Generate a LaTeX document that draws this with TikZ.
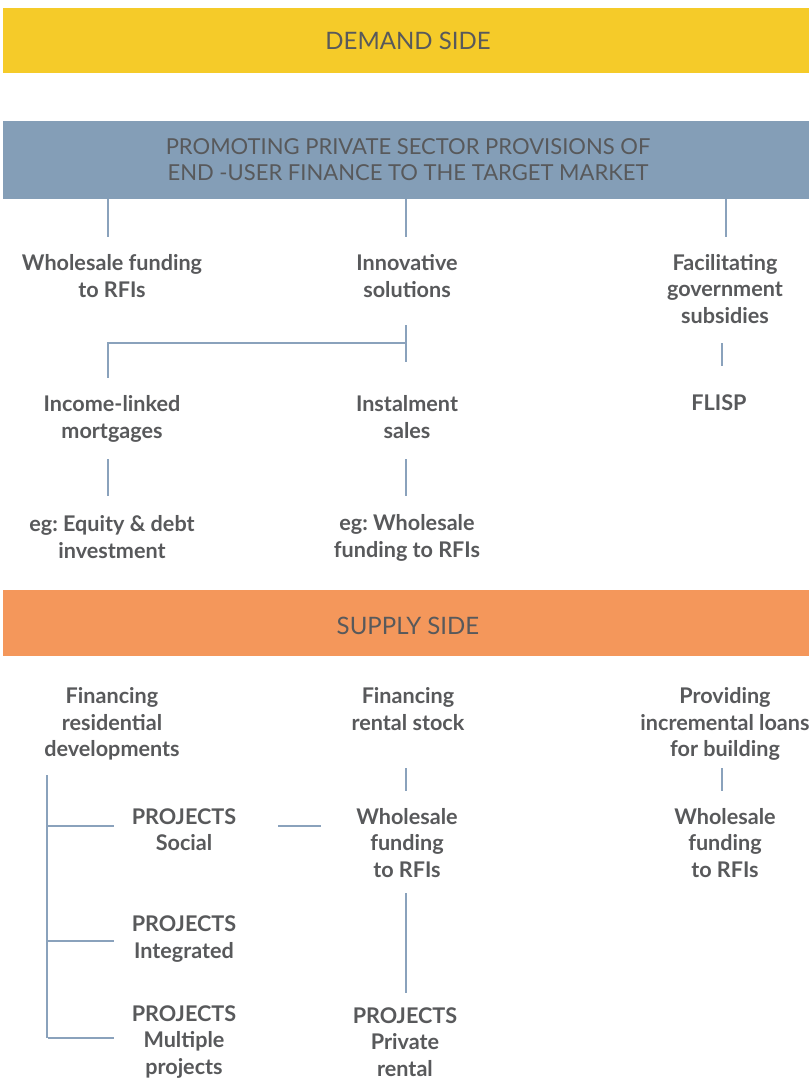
\documentclass[tikz,border=0pt]{standalone}
\usepackage{fontspec}
\setmainfont{Lato}
\frenchspacing
\definecolor{bandyellow}{HTML}{F5CB29}
\definecolor{bandblue}{HTML}{849EB7}
\definecolor{bandorange}{HTML}{F4975B}
\definecolor{txt}{HTML}{58595B}
\definecolor{conn}{HTML}{8AA2BC}
\begin{document}
\begin{tikzpicture}[x=1pt,y=-1pt,
  band/.style={draw=none,inner sep=0pt,minimum width=806pt,anchor=north west},
  headtxt/.style={text=txt,font=\fontsize{24}{26}\selectfont,align=center},
  promotxt/.style={text=txt,font=\fontsize{22}{26}\selectfont,align=center},
  lbl/.style={text=txt,font=\bfseries\fontsize{21.6}{26.3}\selectfont,align=center,inner sep=0pt},
  conline/.style={draw=conn,line width=2pt}]
\useasboundingbox (0,0) rectangle (809,1079);
\fill[white] (0,0) rectangle (809,1079);
% bands
\node[band,fill=bandyellow,minimum height=65pt] (demand) at (3,8) {};
\node[headtxt] (demandt) at (408,41) {DEMAND SIDE};
\node[band,fill=bandblue,minimum height=78pt] (promo) at (3,121) {};
\node[promotxt] (promot) at (408,160) {PROMOTING PRIVATE SECTOR PROVISIONS OF\\END -USER FINANCE TO THE TARGET MARKET};
\node[band,fill=bandorange,minimum height=66pt] (supply) at (3,590) {};
\node[headtxt] (supplyt) at (408,626) {SUPPLY SIDE};
% demand labels
\node[lbl] (wf) at (112,276) {Wholesale funding\\to RFIs};
\node[lbl] (inn) at (407,276) {Innovative\\solutions};
\node[lbl] (fac) at (725,289) {Facilitating\\government\\subsidies};
\node[lbl] (inc) at (112,419) {Income-linked\\mortgages};
\node[lbl] (inst) at (407,417) {Instalment\\sales};
\node[lbl] (flisp) at (719,403) {FLISP};
\node[lbl] (eq) at (112,537) {eg: Equity \& debt\\investment};
\node[lbl] (egw) at (407,538) {eg: Wholesale\\funding to RFIs};
% supply labels
\node[lbl] (finres) at (112,724) {Financing\\residential\\developments};
\node[lbl] (finrent) at (408,709) {Financing\\rental stock};
\node[lbl] (prov) at (725,724) {Providing\\incremental loans\\for building};
\node[lbl] (psoc) at (184,830) {PROJECTS\\Social};
\node[lbl] (wf2) at (407,843) {Wholesale\\funding\\to RFIs};
\node[lbl] (wf3) at (725,843) {Wholesale\\funding\\to RFIs};
\node[lbl] (pint) at (184,939) {PROJECTS\\Integrated};
\node[lbl] (pmul) at (184,1042) {PROJECTS\\Multiple\\projects};
\node[lbl] (ppri) at (405,1042) {PROJECTS\\Private\\rental};
% connector coordinates
\coordinate (a1) at (108,199); \coordinate (a2) at (108,237);
\coordinate (b1) at (406,199); \coordinate (b2) at (406,237);
\coordinate (c1) at (726,199); \coordinate (c2) at (726,237);
\coordinate (d1) at (406,325); \coordinate (d2) at (406,362);
\coordinate (dh) at (406,343); \coordinate (dl) at (108,343); \coordinate (dl2) at (108,378);
\coordinate (e1) at (722,343); \coordinate (e2) at (722,366);
\coordinate (f1) at (108,459); \coordinate (f2) at (108,496);
\coordinate (g1) at (406,459); \coordinate (g2) at (406,496);
\coordinate (h1) at (406,768); \coordinate (h2) at (406,791);
\coordinate (i1) at (722,768); \coordinate (i2) at (722,791);
\coordinate (br1) at (47,775); \coordinate (br2) at (47,1038);
\coordinate (s1) at (48,826); \coordinate (s2) at (114,826);
\coordinate (t1) at (48,941); \coordinate (t2) at (114,941);
\coordinate (u1) at (48,1038); \coordinate (u2) at (114,1038);
\coordinate (m1) at (278,826); \coordinate (m2) at (321,826);
\coordinate (r1) at (406,893); \coordinate (r2) at (406,993);
% connectors
\draw[conline] (a1) -- (a2);
\draw[conline] (b1) -- (b2);
\draw[conline] (c1) -- (c2);
\draw[conline] (d1) -- (d2);
\draw[conline] (dh) -- (dl) -- (dl2);
\draw[conline] (e1) -- (e2);
\draw[conline] (f1) -- (f2);
\draw[conline] (g1) -- (g2);
\draw[conline] (h1) -- (h2);
\draw[conline] (i1) -- (i2);
\draw[conline] (br1) -- (br2);
\draw[conline] (s1) -- (s2);
\draw[conline] (t1) -- (t2);
\draw[conline] (u1) -- (u2);
\draw[conline] (m1) -- (m2);
\draw[conline] (r1) -- (r2);
\end{tikzpicture}
\end{document}
